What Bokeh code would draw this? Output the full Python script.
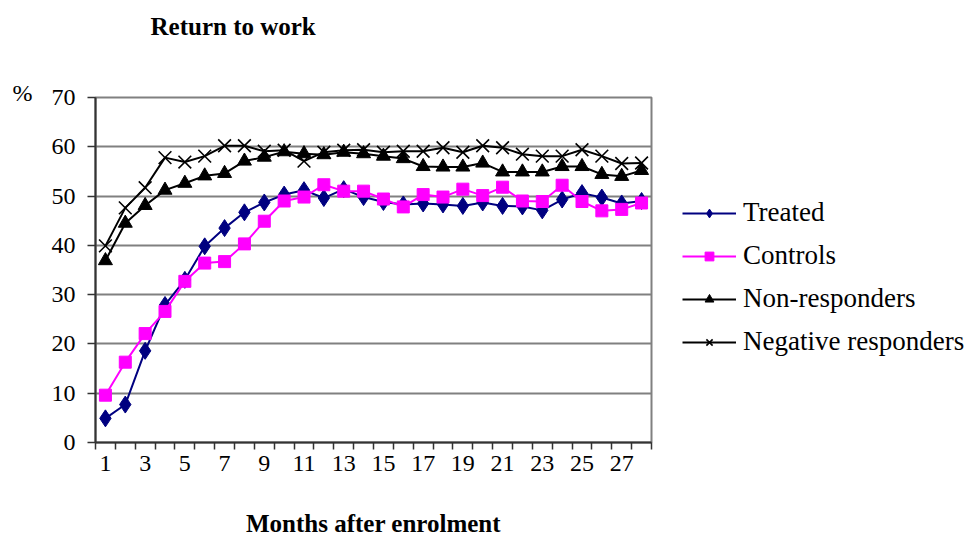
from bokeh.plotting import figure
from bokeh.models import FixedTicker, Legend, LegendItem, Range1d, Title
from bokeh.embed import file_html
from bokeh.resources import INLINE

months = list(range(1, 29))
tick_months = list(range(1, 28, 2))
treated = [4.9, 7.7, 18.6, 27.9, 33.0, 39.8, 43.5, 46.7, 48.7, 50.3, 51.2, 49.6, 51.4, 49.8, 48.8,
           48.3, 48.5, 48.3, 48.0, 48.7, 48.0, 47.9, 47.1, 49.3, 50.6, 49.7, 48.5, 49.0]
controls = [9.6, 16.3, 22.1, 26.6, 32.7, 36.4, 36.7, 40.3, 44.9, 49.0, 49.8, 52.3, 51.0, 51.0, 49.4,
            47.8, 50.3, 49.8, 51.4, 50.1, 51.8, 49.0, 48.9, 52.2, 48.9, 47.0, 47.3, 48.6]
non_responders = [36.9, 44.5, 48.1, 51.2, 52.6, 54.1, 54.6, 57.1, 57.9, 59.0, 58.6, 58.4, 58.9, 58.6, 58.1,
                  57.6, 56.0, 55.9, 55.9, 56.7, 54.9, 54.9, 54.9, 56.0, 56.0, 54.4, 54.0, 55.2]
negative_responders = [39.9, 47.6, 51.7, 57.8, 56.9, 58.1, 60.2, 60.2, 59.1, 59.3, 57.1, 58.9, 59.3, 59.4, 58.9,
                       59.1, 59.1, 59.8, 58.9, 60.2, 59.8, 58.5, 58.1, 58.1, 59.4, 58.1, 56.6, 56.7]

FONT = "Liberation Serif"

p = figure(frame_width=556, frame_height=345, output_backend="svg", toolbar_location=None,
           title=None,
           x_range=Range1d(0.5, 28.5), y_range=Range1d(0, 70),
           min_border_left=95, min_border_right=0, min_border_top=97, min_border_bottom=0)
p.background_fill_color = "white"
p.border_fill_color = "white"
p.outline_line_color = "#808080"
p.outline_line_width = 2

# grid
p.xgrid.grid_line_color = None
p.ygrid.grid_line_color = "#808080"
p.ygrid.grid_line_width = 2
p.ygrid.ticker = FixedTicker(ticks=[0, 10, 20, 30, 40, 50, 60, 70])

# x axis
p.xaxis.ticker = FixedTicker(ticks=tick_months, minor_ticks=[m - 0.5 for m in months] + [28.5])
p.xaxis.major_tick_out = 0
p.xaxis.major_tick_in = 0
p.xaxis.minor_tick_out = 7
p.xaxis.minor_tick_in = 0
p.xaxis.minor_tick_line_color = "#333333"
p.xaxis.minor_tick_line_width = 1.5
p.xaxis.axis_line_color = "#333333"
p.xaxis.axis_line_width = 2
p.xaxis.major_label_text_font = FONT
p.xaxis.major_label_text_font_size = "24px"
p.xaxis.major_label_text_color = "black"
p.xaxis.major_label_standoff = 6
p.xaxis.axis_label = "Months after enrolment"
p.xaxis.axis_label_text_font = FONT
p.xaxis.axis_label_text_font_size = "25px"
p.xaxis.axis_label_text_font_style = "bold"
p.xaxis.axis_label_text_color = "black"
p.xaxis.axis_label_standoff = 36

# y axis
p.yaxis.ticker = FixedTicker(ticks=[0, 10, 20, 30, 40, 50, 60, 70], minor_ticks=[])
p.yaxis.major_tick_out = 8
p.yaxis.major_tick_in = 0
p.yaxis.major_tick_line_color = "#333333"
p.yaxis.major_tick_line_width = 1.5
p.yaxis.axis_line_color = "#333333"
p.yaxis.axis_line_width = 2
p.yaxis.major_label_text_font = FONT
p.yaxis.major_label_text_font_size = "24px"
p.yaxis.major_label_text_color = "black"
p.yaxis.major_label_standoff = 12

# series
r1 = p.line(months, treated, line_color="#000080", line_width=2)
s1 = p.scatter(months, treated, marker="diamond", size=17, fill_color="#000080", line_color="#000080")
r2 = p.line(months, controls, line_color="#FF00FF", line_width=2)
s2 = p.scatter(months, controls, marker="square", size=12, fill_color="#FF00FF", line_color="#FF00FF")
r3 = p.line(months, non_responders, line_color="black", line_width=2)
s3 = p.scatter(months, non_responders, marker="triangle", size=14, fill_color="black", line_color="black")
r4 = p.line(months, negative_responders, line_color="black", line_width=2)
s4 = p.scatter(months, negative_responders, marker="x", size=18, line_color="black", line_width=1.6)

legend = Legend(items=[
    LegendItem(label="Treated", renderers=[r1, s1]),
    LegendItem(label="Controls", renderers=[r2, s2]),
    LegendItem(label="Non-responders", renderers=[r3, s3]),
    LegendItem(label="Negative responders", renderers=[r4, s4]),
], location=(31, 85))
legend.border_line_color = None
legend.background_fill_alpha = 0
legend.label_text_font = FONT
legend.label_text_font_size = "27px"
legend.label_text_color = "black"
legend.glyph_width = 54
legend.glyph_height = 22
legend.label_height = 22
legend.label_width = 234
legend.spacing = 12
legend.label_standoff = 7
legend.margin = 0
legend.padding = 10
p.add_layout(legend, "right")

# unit and title in the top panel
p.add_layout(Title(text="%", align="left", offset=-83, standoff=-16,
                   text_font=FONT, text_font_size="24px", text_font_style="normal",
                   text_color="black"), "above")
p.add_layout(Title(text="Return to work\n\u00a0\n\u00a0", align="left", offset=55, standoff=-16,
                   text_font=FONT, text_font_size="25px", text_font_style="bold",
                   text_color="black"), "above")

open("out.html", "w").write(file_html(p, INLINE))
